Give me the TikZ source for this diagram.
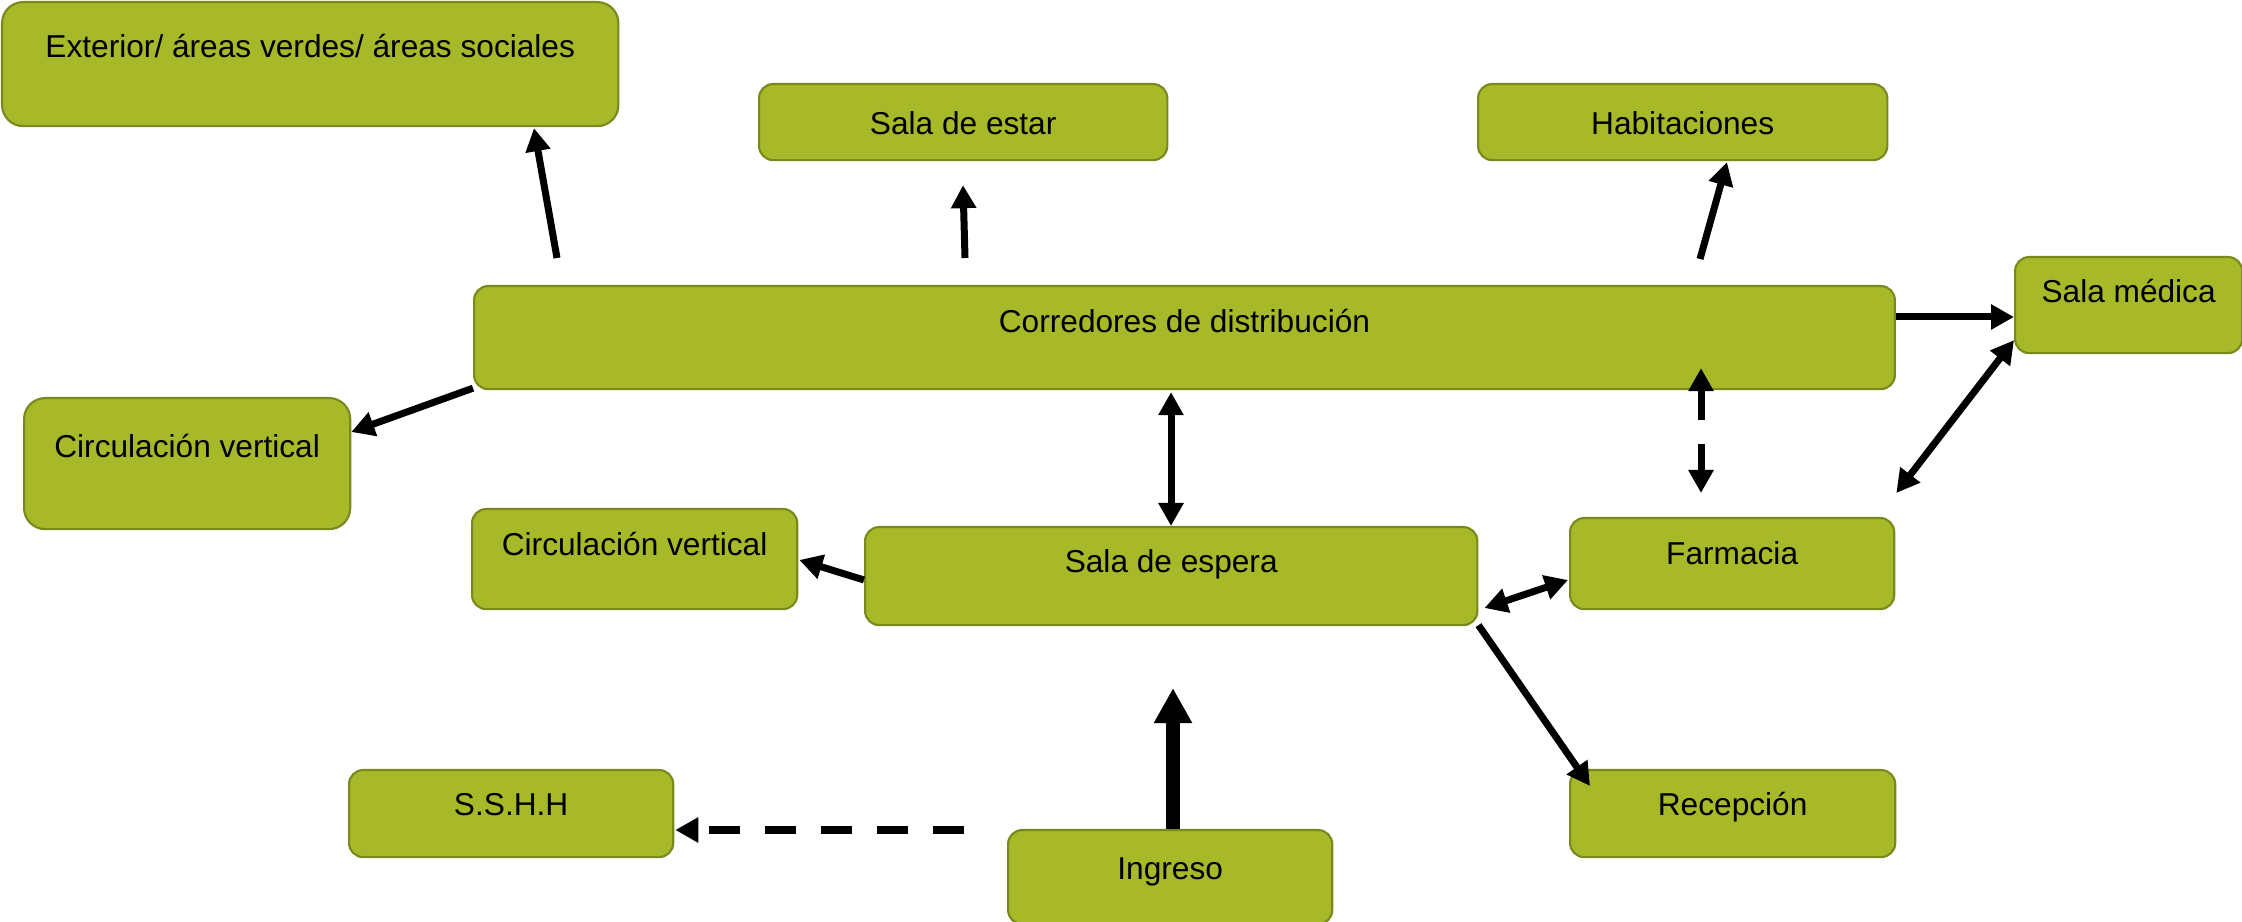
\documentclass[tikz,border=0pt]{standalone}
\usepackage{fontspec}
\setmainfont{Liberation Sans}
\usepackage{xcolor}
\definecolor{roomgreen}{RGB}{167,184,40}
\definecolor{roomedge}{RGB}{122,136,28}
\usepackage{tikz}
\usetikzlibrary{arrows.meta, calc}
\tikzset{
  room/.style={
    rectangle, draw=roomedge, fill=roomgreen, line width=0.6pt,
    rounded corners=4pt, anchor=north west, inner ysep=0pt,
    align=center, font=\fontsize{9}{11}\selectfont},
  bigroom/.style={room, rounded corners=6pt},
  arr/.style={-{Triangle[length=2.3mm, width=2.4mm]}, line width=0.7mm},
  arrboth/.style={{Triangle[length=2.3mm, width=2.4mm]}-{Triangle[length=2.3mm, width=2.4mm]},
    line width=0.7mm},
  arrthick/.style={-{Triangle[length=3.5mm, width=3.6mm]}, line width=1.4mm},
  arrdash/.style={arr, dash pattern=on 3.1mm off 2.5mm},
}

\begin{document}
\begin{tikzpicture}[x=0.01cm, y=-0.01cm]
  \useasboundingbox (0,0) rectangle (2242,922);
  % espacios
  \node[bigroom, minimum width=6.16cm, text height=5.5mm, text depth=6.9mm] (ext) at (1,1)
    {Exterior/ áreas verdes/ áreas sociales};
  \node[room, minimum width=4.08cm, text height=5.0mm, text depth=2.6mm] (estar) at (758,83)
    {Sala de estar};
  \node[room, minimum width=4.09cm, text height=5.0mm, text depth=2.6mm] (habit) at (1477,83)
    {Habitaciones};
  \node[room, minimum width=14.2cm, text height=4.6mm, text depth=5.7mm] (corr) at (473,285)
    {Corredores de distribución};
  \node[room, minimum width=2.27cm, text height=4.5mm, text depth=5.1mm] (medica) at (2014,256)
    {Sala médica};
  \node[bigroom, minimum width=3.26cm, text height=5.9mm, text depth=7.2mm] (circA) at (23,397)
    {Circulación vertical};
  \node[room, minimum width=3.25cm, text height=4.6mm, text depth=5.4mm] (circB) at (471,508)
    {Circulación vertical};
  \node[room, minimum width=6.12cm, text height=4.5mm, text depth=5.3mm] (espera) at (864,526)
    {Sala de espera};
  \node[room, minimum width=3.24cm, text height=4.6mm, text depth=4.5mm] (farm) at (1569,517)
    {Farmacia};
  \node[room, minimum width=3.25cm, text height=4.5mm, text depth=4.2mm] (recep) at (1569,769)
    {Recepción};
  \node[room, minimum width=3.24cm, text height=4.5mm, text depth=4.2mm] (sshh) at (348,769)
    {S.S.H.H};
  \node[room, minimum width=3.24cm, text height=4.9mm, text depth=4.5mm] (ingreso) at (1007,829)
    {Ingreso};
  % conexiones
  \draw[arr] ($(corr.north west)+(84,-27)$) -- ($(ext.south west)+(533,1)$);
  \draw[arr] ($(corr.north west)+(492,-27)$) -- ($(estar.south west)+(205,24)$);
  \draw[arr] ($(corr.north west)+(1227,-26)$) -- ($(habit.south west)+(250,1)$);
  \draw[arr] ($(corr.north east)+(0,32)$) -- ($(medica.north west)+(0,61)$);
  \draw[arrboth] ($(medica.south west)+(0,-14)$) -- ($(farm.north east)+(1,-24)$);
  \draw[arrboth, dash pattern=on 3mm off 2.4mm] ($(corr.south west)+(1228,-22)$)
    -- ($(farm.north west)+(132,-24)$);
  \draw[arrboth] ($(corr.south west)+(698,2)$) -- ($(espera.north west)+(307,0)$);
  \draw[arr] ($(espera.north west)+(0,54)$) -- ($(circB.north east)+(1,52)$);
  \draw[arrboth] ($(espera.north east)+(6,82)$) -- ($(farm.north west)+(-1,63)$);
  \draw[arr] ($(espera.south east)+(0,-1)$) -- ($(recep.north west)+(21,17)$);
  \draw[arrthick] ($(ingreso.north west)+(166,0)$) -- ($(espera.south west)+(309,62)$);
  \draw[arrdash] ($(ingreso.north west)+(-43,1)$) -- ($(sshh.north east)+(1,61)$);
  \draw[arr] ($(corr.south west)+(0,-2)$) -- ($(circA.north east)+(0,35)$);
\end{tikzpicture}
\end{document}
